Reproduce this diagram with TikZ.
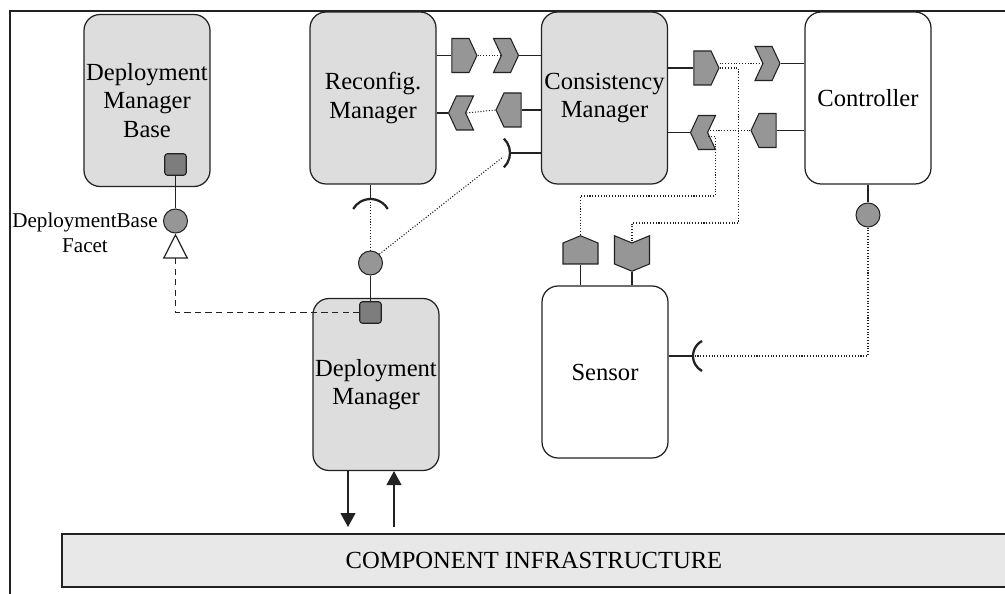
\documentclass[tikz,border=0pt]{standalone}
\usepackage{fontspec}
\setmainfont{Liberation Serif}
\usetikzlibrary{shapes.symbols,arrows.meta,positioning}
\definecolor{boxgray}{HTML}{DDDDDD}
\definecolor{portgray}{HTML}{969696}
\definecolor{homegray}{HTML}{7D7D7D}
\definecolor{infragray}{HTML}{E8E8E8}
\definecolor{linegray}{HTML}{222222}

\begin{document}
\begin{tikzpicture}[x=0.02cm,y=-0.02cm,
    comp/.style={draw=linegray,line width=0.7pt,rounded corners=0.32cm,minimum width=2.52cm,minimum height=3.44cm,inner sep=0.5pt,align=center,font=\fontsize{14}{16}\selectfont},
    evport/.style={signal,draw=linegray,line width=0.6pt,fill=portgray,inner sep=0pt,signal pointer angle=130,minimum width=0.5cm,minimum height=0.68cm},
    sensport/.style={evport,minimum width=0.7cm,minimum height=0.42cm,signal pointer angle=135},
    facet/.style={circle,draw=linegray,line width=0.6pt,fill=portgray,inner sep=0pt,minimum size=0.48cm},
    homeport/.style={rectangle,rounded corners=1.5pt,draw=linegray,line width=0.6pt,fill=homegray,inner sep=0pt,minimum size=0.43cm},
    socket/.style={linegray,line width=1.3pt},
    conn/.style={linegray,line width=0.7pt},
    wire/.style={linegray,densely dotted,line width=0.6pt}]
  \useasboundingbox (0,0) rectangle (1005,594);
  \draw[linegray,line width=1.1pt] (10,600) |- (1010,11);

  % components
  \node[comp,fill=boxgray] (dmb) at (147,100.5) {Deployment\\Manager\\Base};
  \node[comp,fill=boxgray] (rm) at (373,98) {Reconfig.\\Manager};
  \node[comp,fill=boxgray] (cm) at (604.5,98) {Consistency\\Manager};
  \node[comp,fill=white] (ctrl) at (868,98) {Controller};
  \node[comp,fill=white] (sensor) at (605,372) {Sensor};
  \node[comp,fill=boxgray] (dm) at (376,384.5) {Deployment\\Manager};
  \node[draw=linegray,line width=0.9pt,fill=infragray,minimum width=18.88cm,minimum height=1.06cm,font=\fontsize{14}{16}\selectfont] (infra) at (534,560.5) {COMPONENT INFRASTRUCTURE};

  % event ports
  \node[evport,signal to=east] (rmout) at (460.5,55.5) {};
  \node[evport,signal to=east,signal from=west] (cmin) at (506,55.5) {};
  \node[evport,signal to=west,signal from=east] (rmin) at (461,113) {};
  \node[evport,signal to=west] (cmout) at (512.5,110) {};
  \node[evport,signal to=east] (cmpub) at (702.5,68) {};
  \node[evport,signal to=east,signal from=west] (ctrlin) at (767.5,63.5) {};
  \node[evport,signal to=west,signal from=east] (cmsub) at (703,132.5) {};
  \node[evport,signal to=west] (ctrlout) at (767.5,130.5) {};
  \node[sensport,signal to=north] (senout) at (580.5,253.5) {};
  \node[sensport,signal to=south,signal from=north] (senin) at (632,253.5) {};

  % facets and homes
  \node[homeport] (dmbhome) at (175.5,164.5) {};
  \node[facet] (dmbfacet) at (175.5,221) {};
  \node[align=center,font=\fontsize{12}{14}\selectfont] (facetlbl) at (85,233) {DeploymentBase\\Facet};
  \node[homeport] (dmhome) at (370.5,312.5) {};
  \node[facet] (dmfacet) at (370.5,263) {};
  \node[facet] (ctrlfacet) at (868,215) {};

  % receptacles
  \coordinate (rmrecp) at (370.5,199);
  \coordinate (cmrecp) at (510,153);
  \coordinate (senrecp) at (693,356);
  \draw[socket] (rmrecp) ++(17.3,10) arc[start angle=30,end angle=150,radius=0.4cm];
  \draw[socket] (cmrecp) ++(-6.1,-14.4) arc[start angle=46,end angle=-46,radius=0.4cm];
  \draw[socket] (senrecp) ++(9,-15) arc[start angle=118,end angle=242,radius=0.34cm];

  % solid links
  \draw[conn] (rm.east |- rmout) -- (rmout.west);
  \draw[conn] (rm.east |- rmin) -- (rmin.west);
  \draw[conn] (cmin.east) -- (cmin -| cm.west);
  \draw[conn] (cmout.east) -- (cmout -| cm.west);
  \draw[conn] (cm.east |- cmpub) -- (cmpub.west);
  \draw[conn] (cm.east |- cmsub) -- (cmsub.west);
  \draw[conn] (ctrlin.east) -- (ctrlin -| ctrl.west);
  \draw[conn] (ctrlout.east) -- (ctrlout -| ctrl.west);
  \draw[conn] (cmrecp) -- (cmrecp -| cm.west);
  \draw[conn] (rmrecp |- rm.south) -- (rmrecp);
  \draw[conn] (dmbhome.south) -- (dmbfacet.north);
  \draw[conn] (dmfacet.south) -- (dmhome.north);
  \draw[conn] (ctrl.south) -- (ctrlfacet.north);
  \draw[conn] (senout.south) -- (senout |- sensor.north);
  \draw[conn] (senin.south) -- (senin |- sensor.north);
  \draw[conn] (senrecp -| sensor.east) -- (senrecp);

  % dotted wiring
  \draw[wire] (rmout.east) -- (cmin.west);
  \draw[wire] (cmout.west) -- (rmin.east);
  \draw[wire] (ctrlin.west -| cmpub.east) -- (ctrlin.west);
  \draw[wire] (ctrlout.west) -- (ctrlout.west -| cmsub.east);
  \draw[wire] (cmpub.east) -- ++(19,0) -- ++(0,155) -| (senin.north);
  \draw[wire] (cmsub.east) ++(0,4) -- ++(7,0) -- ++(0,59.5) -| (senout.north);
  \draw[wire] (rmrecp) -- (dmfacet.north);
  \draw[wire] (dmfacet.north east) -- ([xshift=-0.14cm,yshift=-0.08cm]cmrecp);
  \draw[wire] (ctrlfacet.south) |- (senrecp);

  % deployment links
  \draw[conn,dash pattern=on 3.5pt off 2.5pt,-{Triangle[open,length=0.5cm,width=0.5cm]}] (dmhome.west) -| (dmbfacet.south);
  \coordinate (dmdown) at (348,527);
  \coordinate (dmup) at (394,527);
  \draw[conn,-{Triangle[length=0.28cm,width=0.3cm]}] (dmdown |- dm.south) -- (dmdown);
  \draw[conn,-{Triangle[length=0.28cm,width=0.3cm]}] (dmup) -- (dmup |- dm.south);
\end{tikzpicture}
\end{document}
